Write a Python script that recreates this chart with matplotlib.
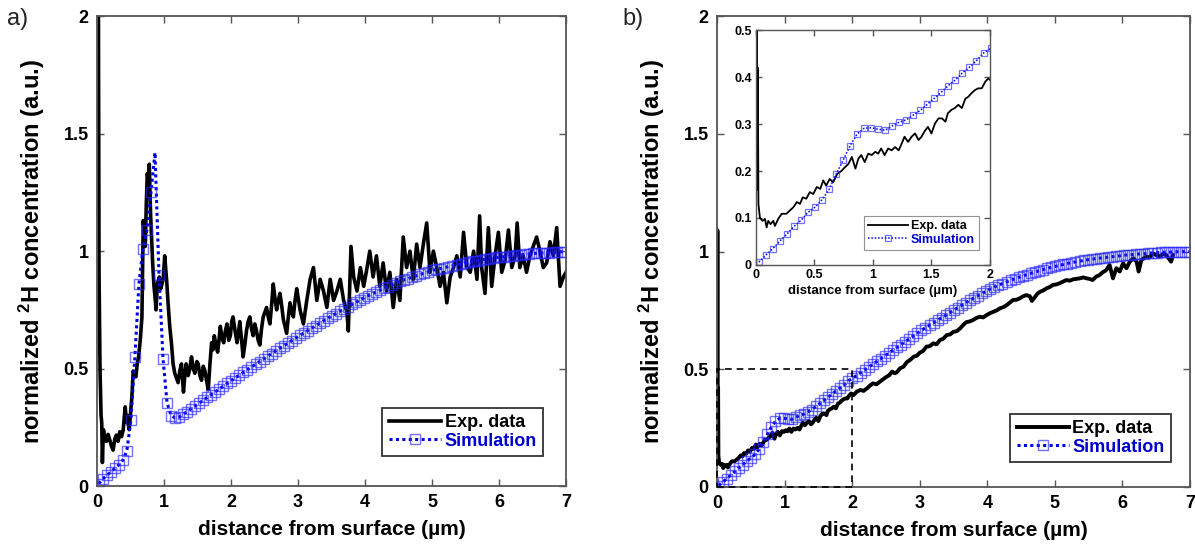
"""Two-panel depth profile of normalized 2H concentration: experiment vs simulation."""

import matplotlib

matplotlib.use("Agg")
import matplotlib.pyplot as plt
import numpy as np
from matplotlib.patches import Rectangle

plt.rcParams["font.family"] = ["Liberation Sans", "DejaVu Sans"]
plt.rcParams["mathtext.fontset"] = "custom"
plt.rcParams["mathtext.rm"] = "Liberation Sans"
plt.rcParams["mathtext.bf"] = "Liberation Sans:bold"

# ---- panel a: experimental profile --------------------------------------
exp_a_x = [
    0.0, 0.02, 0.03, 0.045, 0.06, 0.07, 0.08, 0.095, 0.12, 0.14, 0.165, 0.19,
    0.215, 0.24, 0.265, 0.29, 0.315, 0.34, 0.365, 0.39, 0.42, 0.44, 0.46, 0.48,
    0.50, 0.52, 0.54, 0.56, 0.58, 0.60, 0.62, 0.645, 0.67, 0.69, 0.71, 0.72,
    0.735, 0.75, 0.765, 0.78, 0.80, 0.815, 0.83, 0.85, 0.87, 0.88, 0.90, 0.93,
    0.95, 0.97, 0.99, 1.01, 1.04, 1.06, 1.085, 1.11, 1.135, 1.16, 1.185, 1.21,
    1.235, 1.26, 1.29, 1.31, 1.33, 1.36, 1.385, 1.41, 1.435, 1.46, 1.49, 1.51,
    1.535, 1.56, 1.585, 1.61, 1.64, 1.66, 1.685, 1.71, 1.73, 1.75, 1.775, 1.80,
    1.82, 1.84, 1.865, 1.89, 1.915, 1.94, 1.965, 1.99, 2.01, 2.03, 2.06, 2.09,
    2.11, 2.13, 2.155, 2.18, 2.205, 2.23, 2.255, 2.28, 2.305, 2.33, 2.355, 2.38,
    2.405, 2.43, 2.455, 2.48, 2.505, 2.53, 2.555, 2.58, 2.605, 2.63, 2.655, 2.68,
    2.705, 2.73, 2.755, 2.78, 2.805, 2.83, 2.855, 2.88, 2.905, 2.93, 2.955, 2.98,
    3.03, 3.08, 3.13, 3.18, 3.23, 3.28, 3.33, 3.38, 3.43, 3.48, 3.53, 3.58,
    3.63, 3.68, 3.73, 3.75, 3.79, 3.83, 3.88, 3.93, 3.98, 4.03, 4.07, 4.12,
    4.17, 4.22, 4.27, 4.32, 4.37, 4.42, 4.47, 4.52, 4.57, 4.62, 4.67, 4.72,
    4.77, 4.82, 4.87, 4.92, 4.97, 5.02, 5.07, 5.12, 5.17, 5.22, 5.27, 5.32,
    5.37, 5.42, 5.47, 5.52, 5.57, 5.62, 5.67, 5.71, 5.74, 5.79, 5.84, 5.89,
    5.94, 5.99, 6.04, 6.09, 6.14, 6.19, 6.24, 6.27, 6.31, 6.36, 6.41, 6.46,
    6.51, 6.56, 6.61, 6.66, 6.71, 6.76, 6.81, 6.86, 6.91, 6.96, 7.0,
]
exp_a_y = [
    2.5, 2.1, 0.9, 0.49, 0.30, 0.27, 0.10, 0.24, 0.20, 0.19, 0.22, 0.196,
    0.17, 0.153, 0.20, 0.217, 0.19, 0.231, 0.21, 0.238, 0.337, 0.27, 0.30, 0.24,
    0.31, 0.38, 0.49, 0.47, 0.465, 0.52, 0.55, 0.62, 0.72, 1.13, 1.05, 1.02,
    1.20, 1.33, 1.30, 1.37, 1.15, 1.05, 0.95, 0.85, 0.79, 0.75, 0.86, 0.89,
    0.84, 0.86, 0.89, 0.98, 0.87, 0.78, 0.68, 0.61, 0.52, 0.48, 0.46, 0.44,
    0.49, 0.52, 0.40, 0.47, 0.52, 0.47, 0.50, 0.55, 0.50, 0.48, 0.53, 0.52,
    0.47, 0.45, 0.51, 0.49, 0.44, 0.41, 0.52, 0.61, 0.58, 0.64, 0.60, 0.57,
    0.62, 0.68, 0.63, 0.61, 0.66, 0.69, 0.62, 0.64, 0.70, 0.72, 0.66, 0.61,
    0.65, 0.70, 0.63, 0.55, 0.60, 0.66, 0.70, 0.72, 0.67, 0.64, 0.69, 0.66,
    0.62, 0.60, 0.67, 0.72, 0.74, 0.76, 0.72, 0.69, 0.77, 0.86, 0.80, 0.75,
    0.79, 0.82, 0.77, 0.71, 0.68, 0.65, 0.72, 0.78, 0.74, 0.72, 0.79, 0.84,
    0.75, 0.69, 0.79, 0.88, 0.93, 0.79, 0.88, 0.83, 0.76, 0.88, 0.79, 0.83,
    0.88, 0.79, 0.74, 0.66, 1.02, 0.89, 0.83, 0.93, 0.85, 0.93, 1.00, 0.89,
    0.98, 0.85, 0.95, 0.83, 0.91, 0.76, 0.88, 0.79, 1.06, 0.93, 1.00, 0.88,
    1.03, 0.93, 1.03, 1.12, 0.91, 1.00, 0.93, 0.85, 0.91, 0.78, 0.89, 0.93,
    0.98, 0.89, 1.08, 0.93, 0.91, 1.00, 0.88, 1.15, 0.93, 0.82, 1.10, 0.85,
    0.98, 1.08, 0.91, 0.96, 1.09, 0.93, 0.98, 1.12, 0.93, 0.98, 0.91, 0.98,
    1.02, 1.06, 1.00, 0.93, 0.95, 1.04, 0.98, 1.10, 0.85, 0.89, 0.91,
]

# ---- panel a: simulated profile (sampled every 0.06 um) -----------------
sim_x = np.arange(117) * 0.06 + 0.025
sim_a_y = [
    0.010, 0.030, 0.045, 0.060, 0.075, 0.090, 0.110, 0.150, 0.280, 0.550,
    0.860, 1.010, 1.090, 1.250, 1.420, 0.900, 0.540, 0.355, 0.300, 0.290,
    0.293, 0.305, 0.317, 0.329, 0.341, 0.353, 0.365, 0.377, 0.389, 0.401,
    0.413, 0.425, 0.437, 0.449, 0.461, 0.472, 0.484, 0.495, 0.507, 0.518,
    0.530, 0.541, 0.553, 0.564, 0.575, 0.586, 0.597, 0.608, 0.619, 0.630,
    0.641, 0.651, 0.662, 0.672, 0.683, 0.693, 0.704, 0.714, 0.725, 0.734,
    0.744, 0.754, 0.763, 0.773, 0.782, 0.792, 0.801, 0.810, 0.818, 0.826,
    0.834, 0.841, 0.849, 0.857, 0.865, 0.872, 0.878, 0.883, 0.889, 0.895,
    0.901, 0.906, 0.912, 0.918, 0.922, 0.926, 0.930, 0.934, 0.938, 0.942,
    0.946, 0.951, 0.954, 0.957, 0.959, 0.962, 0.965, 0.968, 0.970, 0.973,
    0.975, 0.977, 0.979, 0.981, 0.983, 0.985, 0.986, 0.988, 0.990, 0.991,
    0.992, 0.993, 0.994, 0.995, 0.996, 0.997, 0.998,
]
# the peak sample carries no marker in the original
sim_a_unmarked = [14]

# ---- panel b: experimental profile --------------------------------------
exp_b_x = [
    0.0, 0.006, 0.011, 0.016, 0.021, 0.034, 0.057, 0.077, 0.091, 0.105, 0.125,
    0.148, 0.162, 0.19, 0.22, 0.26, 0.29, 0.32, 0.35, 0.376, 0.40, 0.43, 0.46,
    0.49, 0.52, 0.55, 0.575, 0.60, 0.63, 0.66, 0.695, 0.73, 0.76, 0.79, 0.82,
    0.85, 0.875, 0.90, 0.93, 0.96, 0.99, 1.02, 1.045, 1.07, 1.10, 1.13, 1.16,
    1.19, 1.22, 1.245, 1.27, 1.30, 1.33, 1.36, 1.39, 1.415, 1.44, 1.47, 1.50,
    1.53, 1.56, 1.59, 1.62, 1.64, 1.67, 1.70, 1.73, 1.76, 1.79, 1.815, 1.84,
    1.87, 1.90, 1.93, 1.96, 1.985, 2.02, 2.07, 2.12, 2.17, 2.22, 2.27, 2.31,
    2.36, 2.41, 2.46, 2.51, 2.55, 2.59, 2.63, 2.66, 2.71, 2.76, 2.81, 2.86,
    2.91, 2.96, 3.0, 3.05, 3.1, 3.15, 3.2, 3.25, 3.3, 3.35, 3.4, 3.45, 3.5,
    3.55, 3.6, 3.65, 3.69, 3.74, 3.79, 3.84, 3.89, 3.94, 3.99, 4.04, 4.09,
    4.14, 4.19, 4.24, 4.29, 4.34, 4.38, 4.43, 4.48, 4.53, 4.58, 4.63, 4.66,
    4.7, 4.74, 4.78, 4.83, 4.88, 4.93, 4.97, 5.02, 5.07, 5.12, 5.17, 5.22,
    5.27, 5.32, 5.37, 5.42, 5.47, 5.51, 5.56, 5.61, 5.66, 5.71, 5.76, 5.81,
    5.86, 5.91, 5.96, 6.01, 6.06, 6.11, 6.16, 6.21, 6.24, 6.28, 6.35, 6.4,
    6.45, 6.5, 6.55, 6.6, 6.65, 6.72, 6.75,
]
exp_b_y = [
    0.15, 1.09, 0.16, 0.42, 0.13, 0.10, 0.094, 0.098, 0.08, 0.094, 0.087,
    0.094, 0.083, 0.098, 0.109, 0.109, 0.116, 0.123, 0.134, 0.13, 0.144, 0.141,
    0.155, 0.151, 0.166, 0.162, 0.18, 0.169, 0.183, 0.176, 0.194, 0.20, 0.208,
    0.215, 0.23, 0.205, 0.226, 0.234, 0.219, 0.237, 0.234, 0.241, 0.237, 0.248,
    0.234, 0.248, 0.244, 0.251, 0.244, 0.258, 0.273, 0.262, 0.273, 0.28, 0.266,
    0.273, 0.284, 0.294, 0.28, 0.301, 0.312, 0.312, 0.305, 0.323, 0.33, 0.334,
    0.341, 0.334, 0.354, 0.358, 0.365, 0.372, 0.376, 0.376, 0.39, 0.397, 0.39,
    0.405, 0.412, 0.408, 0.419, 0.432, 0.44, 0.436, 0.447, 0.458, 0.468, 0.475,
    0.49, 0.483, 0.487, 0.504, 0.511, 0.53, 0.54, 0.553, 0.558, 0.57, 0.578,
    0.596, 0.598, 0.61, 0.606, 0.624, 0.63, 0.645, 0.648, 0.659, 0.662, 0.674,
    0.69, 0.70, 0.703, 0.709, 0.718, 0.723, 0.72, 0.73, 0.738, 0.744, 0.75,
    0.759, 0.764, 0.773, 0.785, 0.794, 0.795, 0.801, 0.81, 0.815, 0.81, 0.79,
    0.805, 0.82, 0.829, 0.835, 0.844, 0.85, 0.858, 0.86, 0.865, 0.872, 0.879,
    0.876, 0.882, 0.884, 0.886, 0.89, 0.886, 0.884, 0.879, 0.893, 0.90, 0.912,
    0.921, 0.943, 0.886, 0.929, 0.915, 0.95, 0.929, 0.957, 0.971, 0.957, 0.915,
    0.964, 0.978, 0.975, 0.992, 0.985, 0.978, 0.99, 0.985, 0.957, 0.985,
]

# ---- panel b: simulated profile -----------------------------------------
sim_b_y = [
    0.006, 0.021, 0.035, 0.051, 0.066, 0.082, 0.095, 0.112, 0.123, 0.139,
    0.161, 0.193, 0.223, 0.254, 0.279, 0.291, 0.292, 0.289, 0.287, 0.296,
    0.304, 0.309, 0.319, 0.329, 0.342, 0.355, 0.368, 0.382, 0.394, 0.409,
    0.421, 0.435, 0.451, 0.461, 0.473, 0.485, 0.497, 0.509, 0.521, 0.533,
    0.545, 0.557, 0.569, 0.581, 0.593, 0.605, 0.617, 0.629, 0.641, 0.653,
    0.665, 0.676, 0.687, 0.697, 0.708, 0.719, 0.729, 0.740, 0.751, 0.762,
    0.772, 0.783, 0.794, 0.803, 0.813, 0.822, 0.832, 0.841, 0.849, 0.857,
    0.864, 0.871, 0.877, 0.884, 0.890, 0.896, 0.902, 0.907, 0.913, 0.918,
    0.923, 0.928, 0.933, 0.937, 0.941, 0.945, 0.949, 0.953, 0.956, 0.959,
    0.962, 0.965, 0.967, 0.970, 0.972, 0.974, 0.976, 0.978, 0.980, 0.982,
    0.984, 0.986, 0.987, 0.989, 0.990, 0.991, 0.993, 0.994, 0.995, 0.996,
    0.997, 0.997, 0.998, 0.999, 0.999, 1.000, 1.000,
]

main_xticks = [0, 1, 2, 3, 4, 5, 6, 7]
main_yticks = [0, 0.5, 1, 1.5, 2]
main_yticklabels = ["0", "0.5", "1", "1.5", "2"]
inset_xticks = [0, 0.5, 1, 1.5, 2]
inset_xticklabels = ["0", "0.5", "1", "1.5", "2"]
inset_yticks = [0, 0.1, 0.2, 0.3, 0.4, 0.5]
inset_yticklabels = ["0", "0.1", "0.2", "0.3", "0.4", "0.5"]
inset_xlim = (0, 2)
inset_ylim = (0, 0.5)

XLABEL = "distance from surface (µm)"
YLABEL = r"normalized $\mathbf{^2}$H concentration (a.u.)"
SIM_LINE = "#0000e0"
SIM_MARK = (0.15, 0.15, 1.0, 0.65)
SPINE = "#555555"


def style_axes(ax, fontsize, spine_lw=1.3, tick_len=5):
    for spine in ax.spines.values():
        spine.set_color(SPINE)
        spine.set_linewidth(spine_lw)
    ax.tick_params(direction="in", top=True, right=True, length=tick_len,
                   width=1.0, color=SPINE, labelsize=fontsize, pad=6)
    for label in ax.get_xticklabels() + ax.get_yticklabels():
        label.set_fontweight("bold")


def add_legend(ax, anchor, fontsize, frame_color, frame_lw, handlelength):
    leg = ax.legend(loc="lower right", bbox_to_anchor=anchor, frameon=True,
                    fancybox=False, edgecolor=frame_color,
                    handlelength=handlelength, borderpad=0.35, labelspacing=0.1,
                    handletextpad=0.2, borderaxespad=0.0,
                    prop={"weight": "bold", "size": fontsize})
    leg.get_frame().set_linewidth(frame_lw)
    leg.get_texts()[1].set_color("#0000cc")
    return leg


def main_panel(ax, exp_x, exp_y, sim_y, exp_lw, unmarked=()):
    marked = [i for i in range(len(sim_y)) if i not in unmarked]
    ax.plot(exp_x, exp_y, color="black", linewidth=exp_lw, label="Exp. data")
    ax.plot(sim_x, sim_y, color=SIM_LINE, linewidth=2.2, linestyle=(0, (1, 1.1)),
            marker="s", markersize=6.5, markerfacecolor="none", markevery=marked,
            markeredgecolor=SIM_MARK, markeredgewidth=1.0, label="Simulation")
    ax.set_xlim(0, 7)
    ax.set_ylim(0, 2)
    ax.set_xticks(main_xticks)
    ax.set_yticks(main_yticks)
    ax.set_yticklabels(main_yticklabels)
    ax.set_xlabel(XLABEL, fontsize=15, fontweight="bold", labelpad=6)
    ax.set_ylabel(YLABEL, fontsize=17, fontweight="bold", labelpad=12)
    style_axes(ax, 13)


fig = plt.figure(figsize=(11.95, 5.54), dpi=100)

ax_a = fig.add_axes([0.0812, 0.1227, 0.3925, 0.848])
main_panel(ax_a, exp_a_x, exp_a_y, sim_a_y, 2.6, sim_a_unmarked)
add_legend(ax_a, (0.951, 0.064), 13, "black", 1.3, 2.9)

ax_b = fig.add_axes([0.6, 0.121, 0.3958, 0.850])
main_panel(ax_b, exp_b_x, exp_b_y, sim_b_y, 2.8)
add_legend(ax_b, (0.96, 0.053), 13, "black", 1.3, 2.9)
ax_b.add_patch(Rectangle((inset_xlim[0], inset_ylim[0]),
                         inset_xlim[1] - inset_xlim[0], inset_ylim[1] - inset_ylim[0],
                         fill=False, edgecolor="black", linewidth=1.2,
                         linestyle=(0, (4, 3)), clip_on=False, zorder=5))

ax_in = fig.add_axes([0.6326, 0.5217, 0.1958, 0.424])
ax_in.plot(exp_b_x, exp_b_y, color="black", linewidth=1.3, label="Exp. data")
ax_in.plot(sim_x, sim_b_y, color=SIM_LINE, linewidth=1.1, linestyle=(0, (1, 1.2)),
           marker="s", markersize=4.0, markerfacecolor="none",
           markeredgecolor=SIM_MARK, markeredgewidth=0.9, label="Simulation")
ax_in.set_xlim(*inset_xlim)
ax_in.set_ylim(*inset_ylim)
ax_in.set_xticks(inset_xticks)
ax_in.set_xticklabels(inset_xticklabels)
ax_in.set_yticks(inset_yticks)
ax_in.set_yticklabels(inset_yticklabels)
ax_in.set_xlabel(XLABEL, fontsize=9.5, fontweight="bold", labelpad=3)
style_axes(ax_in, 9, spine_lw=1.0, tick_len=4)
ax_in.tick_params(pad=3)
add_legend(ax_in, (0.953, 0.064), 9, "#777777", 0.8, 3.2)

fig.text(0.006, 0.985, "a)", fontsize=17, va="top", ha="left", color="#222222")
fig.text(0.521, 0.985, "b)", fontsize=17, va="top", ha="left", color="#222222")

fig.savefig("out.png", dpi=100)
